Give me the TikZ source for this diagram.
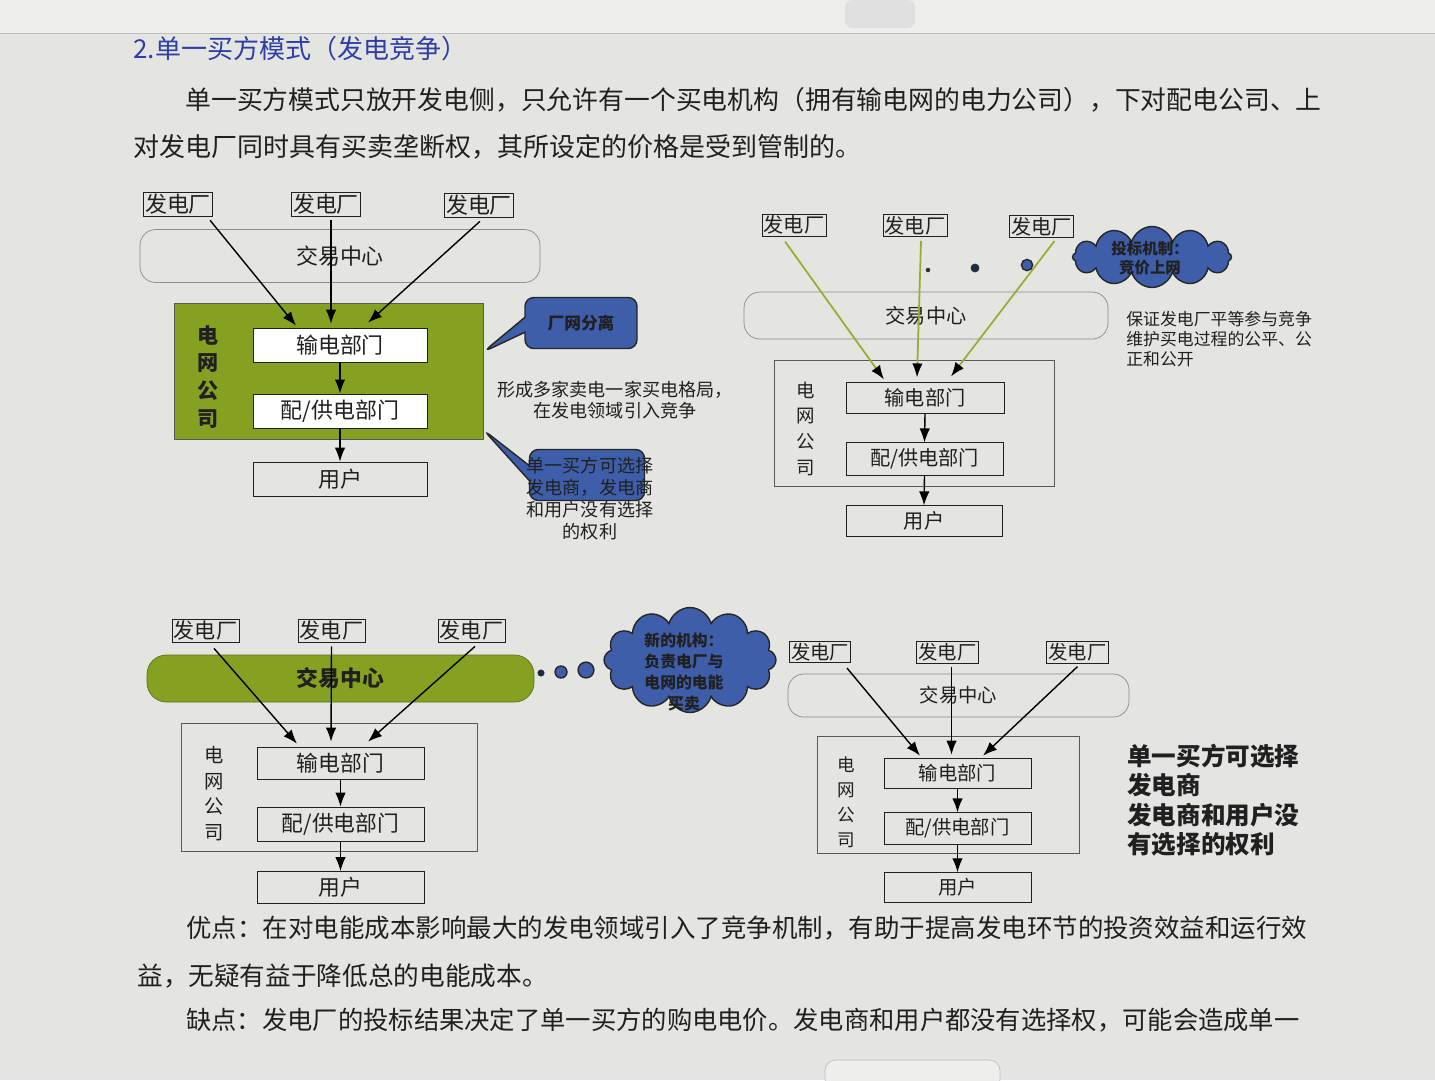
\documentclass[tikz,border=0pt]{standalone}
\usepackage{fontspec}
\setmainfont{Noto Sans CJK SC}
\usetikzlibrary{arrows.meta,calc,shapes.callouts,shapes.symbols}

\definecolor{paper}{RGB}{228,228,225}
\definecolor{barbg}{RGB}{238,238,236}
\definecolor{gridgreen}{RGB}{134,160,34}
\definecolor{noteblue}{RGB}{62,94,170}
\definecolor{headblue}{RGB}{45,62,165}
\definecolor{linkgreen}{RGB}{152,172,48}
\definecolor{ink}{RGB}{32,32,32}
\newcommand{\fsz}[2]{\fontsize{#1}{#2}\selectfont}

\begin{document}
\begin{tikzpicture}[x=0.02cm, y=-0.02cm, text=ink,
    plant/.style={draw=ink, inner sep=1pt},
    hub/.style={draw=black!45, rounded corners=9pt},
    dept/.style={draw=ink},
    gridbox/.style={draw=black!65},
    gridlbl/.style={align=center},
    link/.style={-{Latex[length=8pt,width=6pt]}, line width=0.8pt},
    glink/.style={draw=linkgreen, -{Latex[length=8pt,width=6pt,color=black]}, line width=1pt},
    notebox/.style={rectangle callout, draw=black!85, fill=noteblue, rounded corners=5pt,
                    line width=0.8pt, callout pointer width=0.3cm, font=\bfseries\fsz{9.5}{11}},
    bubble/.style={cloud, cloud puffs=12, aspect=2.2, draw=black!85, fill=noteblue,
                   line width=0.8pt, inner sep=0pt},
    para/.style={anchor=west, inner sep=0pt, font=\fsz{14.6}{18}}
]
\useasboundingbox (0,0) rectangle (1435,1080);
\fill[paper] (0,0) rectangle (1435,1080);
\fill[barbg] (0,0) rectangle (1435,33);
\draw[black!25] (0,33) -- (1435,33);
\fill[black!12, rounded corners=4pt] (845,0) rectangle (915,28);

% page text
\node[para, text=headblue, font=\fsz{14.8}{16}] (title) at (133,49) {2.单一买方模式（发电竞争）};
\node[para, font=\fsz{14.7}{18}] (intro1) at (185,100) {单一买方模式只放开发电侧，只允许有一个买电机构（拥有输电网的电力公司），下对配电公司、上};
\node[para, font=\fsz{14.8}{18}] (intro2) at (133,147) {对发电厂同时具有买卖垄断权，其所设定的价格是受到管制的。};

% diagram 1: green grid company
\begin{scope}[font=\fsz{12.5}{14}]
\node[plant, font=\fsz{12.5}{14}] (pa1) at (178,204) {发电厂};
\node[plant, font=\fsz{12.5}{14}] (pa2) at (326,204) {发电厂};
\node[plant, font=\fsz{12.5}{14}] (pa3) at (479,205) {发电厂};
\node[hub, minimum width=8cm, minimum height=1.06cm, font=\fsz{12.5}{14}] (hubA) at (340,256) {交易中心};
\node[gridbox, fill=gridgreen, minimum width=6.18cm, minimum height=2.72cm] (gridA) at (328.5,371) {};
\node[gridlbl, font=\bfseries\fsz{12}{15.9}] (lblA) at (208,377) {电\\网\\公\\司};
\node[dept, fill=white, minimum width=3.48cm, minimum height=0.68cm] (txA) at (340,345) {输电部门};
\node[dept, fill=white, minimum width=3.48cm, minimum height=0.68cm] (dsA) at (340,411) {配/供电部门};
\node[dept, minimum width=3.48cm, minimum height=0.68cm] (userA) at (340,479) {用户};
\draw[link] ($(pa1.south east)+(-3,4)$) -- ($(txA.north)+(-44,-2)$);
\draw[link] ($(pa2.south)+(5,4)$) -- ($(txA.north)+(-9,-4)$);
\draw[link] ($(pa3.south)+(1,4)$) -- ($(txA.north)+(28,-5)$);
\draw[link] (txA.south) -- (dsA.north);
\draw[link] (dsA.south) -- (userA.north);
\node[notebox, minimum width=2.24cm, minimum height=1.02cm,
      callout absolute pointer={($(gridA.north east)!0.36!(gridA.south east)$)}] (sepnote) at (581,323) {厂网分离};
\node[align=center, font=\fsz{10.3}{12}] (patternA) at (615,400) {形成多家卖电一家买电格局，\\在发电领域引入竞争};
\node[notebox, minimum width=2.3cm, minimum height=1.02cm,
      callout absolute pointer={($(gridA.north east)!0.93!(gridA.south east)$)}] (choicenote) at (587,475) {};
\node[align=center, font=\fsz{10.3}{12.5}] (choiceA) at (590,499) {单一买方可选择\\发电商，发电商\\和用户没有选择\\的权利};
\end{scope}

% diagram 2: bidding
\begin{scope}[font=\fsz{11.5}{12}]
\node[plant, font=\fsz{11.5}{13}] (pb1) at (794,225) {发电厂};
\node[plant, font=\fsz{11.5}{13}] (pb2) at (915,225.5) {发电厂};
\node[plant, font=\fsz{11.5}{13}] (pb3) at (1041.5,226.5) {发电厂};
\node[hub, minimum width=7.28cm, minimum height=0.94cm, font=\fsz{11.5}{13}] (hubB) at (926,315.5) {交易中心};
\node[gridbox, minimum width=5.6cm, minimum height=2.52cm] (gridB) at (914,423) {};
\node[gridlbl, font=\fsz{10.5}{14.6}] (lblB) at (806,428.5) {电\\网\\公\\司};
\node[dept, minimum width=3.16cm, minimum height=0.6cm] (txB) at (925,398) {输电部门};
\node[dept, minimum width=3.14cm, minimum height=0.6cm] (dsB) at (924.5,459) {配/供电部门};
\node[dept, minimum width=3.12cm, minimum height=0.6cm] (userB) at (924,521) {用户};
\draw[glink] ($(pb1.south)+(-9,5)$) -- ($(txB.north)+(-41,-3)$);
\draw[glink] ($(pb2.south)+(6,4)$) -- ($(txB.north)+(-8,-5)$);
\draw[glink] ($(pb3.south)+(13,3)$) -- ($(txB.north)+(26,-6)$);
\draw[link] (txB.south) -- (dsB.north);
\draw[link] (dsB.south) -- (userB.north);
\fill[black!80] (928,270) circle[radius=1.3pt];
\filldraw[fill=black!55!noteblue, draw=black!80] (975,268) circle[radius=2.3pt];
\filldraw[fill=noteblue, draw=black!85, line width=0.8pt] (1027,265) circle[radius=3.2pt];
\node[bubble, minimum width=3.18cm, minimum height=1.22cm] (bidcloud) at (1152,257) {};
\node[align=center, font=\bfseries\fsz{8.8}{11}] (bidtext) at (1150,258) {投标机制：\\竞价上网};
\node[anchor=west, inner sep=0pt, align=left, font=\fsz{9.6}{11.6}] (fairB) at (1126,339) {保证发电厂平等参与竞争\\维护买电过程的公平、公\\正和公开};
\end{scope}

% diagram 3: green trading centre
\begin{scope}[font=\fsz{12.4}{13}]
\node[plant, font=\fsz{12}{14}] (pc1) at (205.5,630.5) {发电厂};
\node[plant, font=\fsz{12}{14}] (pc2) at (331.5,630.5) {发电厂};
\node[plant, font=\fsz{12}{14}] (pc3) at (471.5,630.5) {发电厂};
\node[hub, draw=gridgreen!70!black, fill=gridgreen, rounded corners=11pt, minimum width=7.74cm,
      minimum height=0.94cm, font=\bfseries\fsz{12.4}{14}] (hubC) at (340.5,678.5) {交易中心};
\node[gridbox, minimum width=5.92cm, minimum height=2.56cm] (gridC) at (329,787) {};
\node[gridlbl, font=\fsz{11}{14.6}] (lblC) at (214,793.5) {电\\网\\公\\司};
\node[dept, minimum width=3.34cm, minimum height=0.64cm] (txC) at (340.5,763) {输电部门};
\node[dept, minimum width=3.34cm, minimum height=0.64cm] (dsC) at (340.5,824) {配/供电部门};
\node[dept, minimum width=3.34cm, minimum height=0.62cm] (userC) at (340.5,887.5) {用户};
\draw[link] ($(pc1.south)+(8.5,6)$) -- ($(txC.north)+(-43.5,-3)$);
\draw[link] ($(pc2.south)+(0,4)$) -- ($(txC.north)+(-9.5,-5)$);
\draw[link] ($(pc3.south)+(3.5,4)$) -- ($(txC.north)+(27.5,-5)$);
\draw[link] (txC.south) -- (dsC.north);
\draw[link] (dsC.south) -- (userC.north);
\filldraw[fill=black!60!noteblue, draw=black!80] (541,673) circle[radius=1.8pt];
\filldraw[fill=noteblue, draw=black!85, line width=0.8pt] (561,672) circle[radius=3.4pt];
\filldraw[fill=noteblue, draw=black!85, line width=0.8pt] (586,670) circle[radius=4.5pt];
\node[bubble, aspect=1.6, minimum width=3.44cm, minimum height=2.1cm] (orgcloud) at (690,660) {};
\node[align=center, font=\bfseries\fsz{9}{12}] (orgtext) at (684,672) {新的机构：\\负责电厂与\\电网的电能\\买卖};
\end{scope}

% diagram 4: plain
\begin{scope}[font=\fsz{11}{12}]
\node[plant, font=\fsz{11}{13}] (pd1) at (820,652) {发电厂};
\node[plant, font=\fsz{11}{13}] (pd2) at (947.5,652.5) {发电厂};
\node[plant, font=\fsz{11}{13}] (pd3) at (1077.5,652.5) {发电厂};
\node[hub, minimum width=6.82cm, minimum height=0.86cm, font=\fsz{11}{13}] (hubD) at (958.5,695.5) {交易中心};
\node[gridbox, minimum width=5.24cm, minimum height=2.34cm] (gridD) at (948,794.5) {};
\node[gridlbl, font=\fsz{10}{14.2}] (lblD) at (846,802.5) {电\\网\\公\\司};
\node[dept, minimum width=2.94cm, minimum height=0.6cm] (txD) at (957.5,773) {输电部门};
\node[dept, minimum width=2.94cm, minimum height=0.58cm] (dsD) at (957.5,828.5) {配/供电部门};
\node[dept, minimum width=2.94cm, minimum height=0.58cm] (userD) at (957.5,887.5) {用户};
\draw[link] ($(pd1.south)+(27,5)$) -- ($(txD.north)+(-37.5,-2)$);
\draw[link] ($(pd2.south)+(4,3)$) -- ($(txD.north)+(-6,-3)$);
\draw[link] ($(pd3.south)+(0,3)$) -- ($(txD.north)+(25.5,-2)$);
\draw[link] (txD.south) -- (dsD.north);
\draw[link] (dsD.south) -- (userD.north);
\node[anchor=west, inner sep=0pt, align=left, font=\bfseries\fsz{14}{16.8}] (choiceD) at (1127,800) {单一买方可选择\\发电商\\发电商和用户没\\有选择的权利};
\end{scope}

% pros and cons
\node[para, font=\fsz{14.5}{18}] (pros1) at (186,928) {优点：在对电能成本影响最大的发电领域引入了竞争机制，有助于提高发电环节的投资效益和运行效};
\node[para, font=\fsz{14.6}{18}] (pros2) at (137,976) {益，无疑有益于降低总的电能成本。};
\node[para, font=\fsz{14.4}{18}] (cons1) at (186,1020) {缺点：发电厂的投标结果决定了单一买方的购电电价。发电商和用户都没有选择权，可能会造成单一};
\filldraw[fill=barbg, draw=black!25, rounded corners=6pt] (825,1060) rectangle (1000,1090);
\end{tikzpicture}
\end{document}
